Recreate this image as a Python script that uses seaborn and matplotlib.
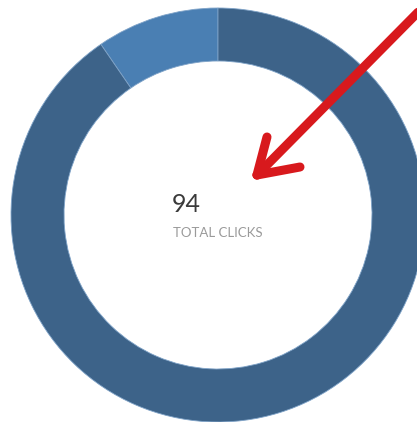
import numpy as np
import matplotlib
matplotlib.use("Agg")
import matplotlib.pyplot as plt
import seaborn as sns

# click counts per segment (light slice first, drawn from 12 o'clock)
segments = ["Segment B", "Segment A"]
clicks = [9, 85]
colors = ["#4a7fb3", "#3d6389"]
total_label = "TOTAL CLICKS"

sns.set_theme(style="white")
plt.rcParams["font.family"] = ["Lato", "DejaVu Sans"]

W, H = 417, 422
fig = plt.figure(figsize=(W / 100, H / 100), dpi=100)
ax = fig.add_axes([0, 0, 1, 1])

cx, cy = 218, H - 215
outer, inner = 207, 154

ax.pie(clicks, colors=colors, startangle=90, counterclock=True,
       center=(cx, cy), radius=outer, frame=True,
       wedgeprops=dict(width=outer - inner, edgecolor="#7fa3c8", linewidth=0.6))
ax.set_xlim(0, W)
ax.set_ylim(0, H)
ax.set_aspect("equal")
ax.axis("off")

ax.text(172, H - 205, str(sum(clicks)), fontsize=18, color="#3a3a3a",
        ha="left", va="center", fontweight="normal")
ax.text(173, H - 233, total_label, fontsize=9.5, color="#9a9a9a",
        ha="left", va="center")

# red arrow pointing at the total
tip = np.array([257.0, H - 175.0])
start = np.array([440.0, H + 10.0])
ax.plot([start[0], tip[0]], [start[1], tip[1]], color="#d8191d",
        lw=6.5, solid_capstyle="round", zorder=5)
arm_a = np.array([267.0, H - 137.0])
arm_b = np.array([300.0, H - 167.0])
for arm in (arm_a, arm_b):
    ax.plot([tip[0], arm[0]], [tip[1], arm[1]], color="#d8191d",
            lw=6.5, solid_capstyle="round", zorder=5)

fig.savefig("out.png", dpi=100, facecolor="white")
